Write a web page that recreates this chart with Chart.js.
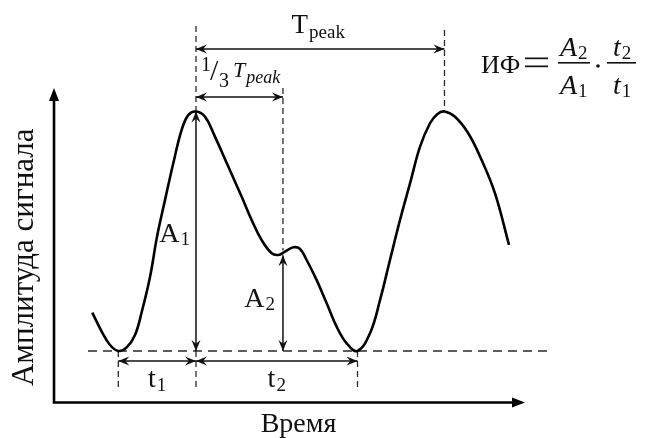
<!DOCTYPE html>
<html>
<head>
<meta charset="utf-8">
<script src="https://cdn.jsdelivr.net/npm/chart.js@4.4.0/dist/chart.umd.min.js"></script>
<style>
  html, body { margin: 0; padding: 0; background: #fff; }
  #wrap { width: 648px; height: 438px; }
</style>
</head>
<body>
<div id="wrap"><canvas id="c"></canvas></div>
<script>
// time in units of 1/3 T_peak (first peak at 1), amplitude normalised to A1
var signalT = [-0.252, -0.138, -0.038, 0.062, 0.163, 0.264, 0.348, 0.445, 0.529, 0.626, 0.726, 0.827,
               0.907, 1.000, 1.109, 1.229, 1.390, 1.552, 1.672, 1.793, 1.914, 1.994, 2.074, 2.175,
               2.256, 2.336, 2.457, 2.578, 2.699, 2.819, 2.950, 3.101, 3.222, 3.342, 3.463, 3.584,
               3.705, 3.825, 3.916, 4.000, 4.127, 4.287, 4.449, 4.610, 4.779];
var signalA = [0.160, 0.081, 0.025, 0.000, 0.015, 0.067, 0.167, 0.309, 0.476, 0.630, 0.784, 0.923,
               0.985, 1.000, 0.978, 0.895, 0.770, 0.644, 0.547, 0.463, 0.408, 0.401, 0.415, 0.433,
               0.426, 0.380, 0.296, 0.199, 0.101, 0.032, 0.000, 0.074, 0.213, 0.380, 0.547, 0.700,
               0.853, 0.951, 0.990, 1.000, 0.978, 0.909, 0.797, 0.658, 0.443];

var peakTimes = [1, 4];        // two systolic peaks
var troughTimes = [0.062, 2.950];
var notchTime = 2.05;          // 1/3 T_peak marker
var amp1 = 1.0;
var amp2 = 0.40;

// guide geometry, data units
var g = {
  axisX: -0.714, axisY: -0.215, axisTop: 1.098, axisRight: 4.972,
  baseFrom: -0.304, baseTo: 5.298,
  peakTop: [1.357, 1.340], notchTop: 1.098, lowEnd: -0.154,
  tpeakY: 1.261, thirdY: 1.061, tY: -0.042
};

var FONT = '"Liberation Serif", "Times New Roman", serif';
var INK = '#111';

function pts(xs, ys) {
  return xs.map(function (x, i) { return {x: x, y: ys[i]}; });
}

function guide(data, dash) {
  return {
    data: data, showLine: true, pointRadius: 0, tension: 0,
    borderColor: '#2a2a2a', borderWidth: 1.3, borderDash: dash
  };
}

var datasets = [
  {
    data: pts(signalT, signalA), showLine: true, pointRadius: 0,
    tension: 0.4, borderColor: '#000', borderWidth: 2.6
  },
  guide([{x: g.baseFrom, y: 0}, {x: g.baseTo, y: 0}], [9, 6]),
  guide([{x: peakTimes[0], y: g.peakTop[0]}, {x: peakTimes[0], y: amp1}], [6, 4]),
  guide([{x: peakTimes[1], y: g.peakTop[1]}, {x: peakTimes[1], y: amp1}], [6, 4]),
  guide([{x: notchTime, y: g.notchTop}, {x: notchTime, y: amp2 + 0.02}], [6, 4]),
  guide([{x: troughTimes[0], y: 0}, {x: troughTimes[0], y: g.lowEnd}], [6, 4]),
  guide([{x: peakTimes[0], y: 0}, {x: peakTimes[0], y: g.lowEnd}], [6, 4]),
  guide([{x: troughTimes[1], y: 0}, {x: troughTimes[1], y: g.lowEnd}], [6, 4])
];

function head(ctx, x, y, ang, len, w) {
  ctx.save();
  ctx.translate(x, y);
  ctx.rotate(ang);
  ctx.beginPath();
  ctx.moveTo(0, 0);
  ctx.lineTo(-len, -w);
  ctx.lineTo(-len * 0.65, 0);
  ctx.lineTo(-len, w);
  ctx.closePath();
  ctx.fill();
  ctx.restore();
}

function dim(ctx, x1, y1, x2, y2) {
  var a = Math.atan2(y2 - y1, x2 - x1);
  ctx.beginPath();
  ctx.moveTo(x1, y1);
  ctx.lineTo(x2, y2);
  ctx.stroke();
  head(ctx, x2, y2, a, 11, 4.5);
  head(ctx, x1, y1, a + Math.PI, 11, 4.5);
}

// base letter + subscript, x is left edge
function subText(ctx, base, sub, x, y, size, subSize, drop, italic) {
  ctx.font = (italic ? 'italic ' : '') + size + 'px ' + FONT;
  ctx.fillText(base, x, y);
  var w = ctx.measureText(base).width;
  ctx.font = (italic === 'both' ? 'italic ' : '') + subSize + 'px ' + FONT;
  ctx.fillText(sub, x + w + 1, y + drop);
  return w + 1 + ctx.measureText(sub).width;
}

function subWidth(ctx, base, sub, size, subSize, italic) {
  ctx.font = (italic ? 'italic ' : '') + size + 'px ' + FONT;
  var w = ctx.measureText(base).width;
  ctx.font = (italic === 'both' ? 'italic ' : '') + subSize + 'px ' + FONT;
  return w + 1 + ctx.measureText(sub).width;
}

var sketch = {
  id: 'sketch',
  afterDatasetsDraw: function (chart) {
    var ctx = chart.ctx, X = chart.scales.x, Y = chart.scales.y;
    var px = function (v) { return X.getPixelForValue(v); };
    var py = function (v) { return Y.getPixelForValue(v); };
    ctx.save();
    ctx.fillStyle = '#000';
    ctx.strokeStyle = '#000';
    ctx.setLineDash([]);

    // axes with arrows
    var ox = px(g.axisX), oy = py(g.axisY);
    ctx.lineWidth = 2.6;
    ctx.beginPath();
    ctx.moveTo(ox, py(g.axisTop) + 8);
    ctx.lineTo(ox, oy);
    ctx.lineTo(px(g.axisRight) - 8, oy);
    ctx.stroke();
    ctx.beginPath();
    ctx.moveTo(ox, py(g.axisTop));
    ctx.lineTo(ox - 5, py(g.axisTop) + 13);
    ctx.lineTo(ox + 5, py(g.axisTop) + 13);
    ctx.closePath();
    ctx.fill();
    ctx.beginPath();
    ctx.moveTo(px(g.axisRight), oy);
    ctx.lineTo(px(g.axisRight) - 13, oy - 5);
    ctx.lineTo(px(g.axisRight) - 13, oy + 5);
    ctx.closePath();
    ctx.fill();

    // dimension arrows
    ctx.strokeStyle = INK;
    ctx.fillStyle = INK;
    ctx.lineWidth = 1.5;
    var p1 = px(peakTimes[0]), p2 = px(peakTimes[1]), pn = px(notchTime);
    dim(ctx, p1, py(g.tpeakY), p2, py(g.tpeakY));
    dim(ctx, p1, py(g.thirdY), pn, py(g.thirdY));
    dim(ctx, p1, py(amp1), p1, py(0));
    dim(ctx, pn, py(amp2), pn, py(0));
    dim(ctx, px(troughTimes[0]), py(g.tY), p1, py(g.tY));
    dim(ctx, p1, py(g.tY), px(troughTimes[1]), py(g.tY));

    // labels
    ctx.textAlign = 'left';
    ctx.textBaseline = 'alphabetic';
    var w = subWidth(ctx, 'T', 'peak', 27, 19, false);
    subText(ctx, 'T', 'peak', (p1 + p2) / 2 - w / 2 - 2, py(g.tpeakY) - 16, 27, 19, 5, false);

    // 1/3 T_peak
    var lx = p1 + 5, ly = py(g.thirdY) - 20;
    ctx.font = '20px ' + FONT;
    ctx.fillText('1', lx, ly - 6);
    ctx.font = '30px ' + FONT;
    ctx.fillText('/', lx + 9, ly + 3);
    ctx.font = '20px ' + FONT;
    ctx.fillText('3', lx + 18, ly + 10);
    subText(ctx, 'T', 'peak', lx + 32, ly, 22, 18, 6, 'both');

    var a1w = subWidth(ctx, 'A', '1', 28, 19, false);
    subText(ctx, 'A', '1', p1 - 6 - a1w, (py(amp1) + py(0)) / 2 + 11, 28, 19, 3, false);
    var a2w = subWidth(ctx, 'A', '2', 28, 19, false);
    subText(ctx, 'A', '2', pn - 8 - a2w, (py(amp2) + py(0)) / 2 + 4, 28, 19, 3, false);

    var t1w = subWidth(ctx, 't', '1', 28, 19, false);
    subText(ctx, 't', '1', (px(troughTimes[0]) + p1) / 2 - t1w / 2, py(g.tY) + 26, 28, 19, 4, false);
    var t2w = subWidth(ctx, 't', '2', 28, 19, false);
    subText(ctx, 't', '2', (p1 + px(troughTimes[1])) / 2 - t2w / 2, py(g.tY) + 26, 28, 19, 4, false);

    // axis titles
    ctx.font = '28px ' + FONT;
    ctx.textAlign = 'center';
    ctx.fillText('Время', (ox + px(g.axisRight)) / 2 + 9, oy + 30);
    ctx.save();
    ctx.font = '31px ' + FONT;
    ctx.translate(ox - 21, (py(g.axisTop) + oy) / 2 + 12);
    ctx.rotate(-Math.PI / 2);
    ctx.fillText('Амплитуда сигнала', 0, 0);
    ctx.restore();

    // formula
    ctx.textAlign = 'left';
    ctx.font = '26px ' + FONT;
    ctx.fillText('ИФ', 481, 73);
    ctx.fillRect(525, 57.5, 23, 1.7);
    ctx.fillRect(525, 65.5, 23, 1.7);
    subText(ctx, 'A', '2', 560, 56, 28, 19, 3, true);
    subText(ctx, 'A', '1', 560, 94, 28, 19, 3, true);
    ctx.fillRect(558, 62, 32, 1.6);
    ctx.beginPath();
    ctx.arc(598, 66, 1.8, 0, Math.PI * 2);
    ctx.fill();
    subText(ctx, 't', '2', 613, 56, 28, 19, 3, true);
    subText(ctx, 't', '1', 613, 94, 28, 19, 3, true);
    ctx.fillRect(607, 62, 29, 1.6);

    ctx.restore();
  }
};

new Chart(document.getElementById('c'), {
  type: 'scatter',
  data: {datasets: datasets},
  options: {
    responsive: true,
    maintainAspectRatio: false,
    animation: false,
    layout: {padding: 0},
    plugins: {legend: {display: false}, tooltip: {enabled: false}},
    scales: {
      x: {type: 'linear', display: false, min: -1.366, max: 6.457},
      y: {type: 'linear', display: false, min: -0.3633, max: 1.4656}
    }
  },
  plugins: [sketch]
});
</script>
</body>
</html>
